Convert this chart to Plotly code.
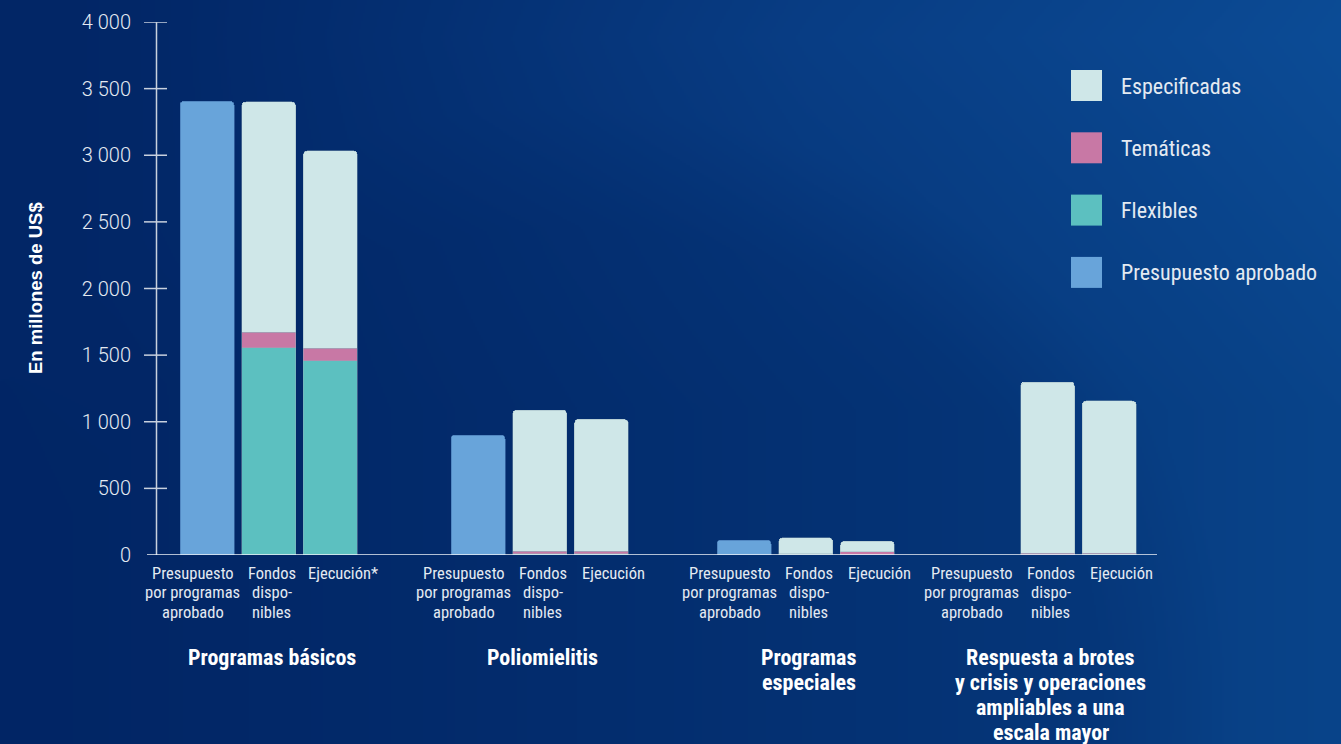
import base64
import struct
import zlib

import numpy as np
import plotly.graph_objects as go

# ---- data (millones de US$) ----
groups = [["Programas básicos"], ["Poliomielitis"], ["Programas", "especiales"],
          ["Respuesta a brotes", "y crisis y operaciones", "ampliables a una", "escala mayor"]]
pres_label = ["Presupuesto", "por programas", "aprobado"]
fond_label = ["Fondos", "dispo-", "nibles"]
ejec_labels = ["Ejecución*", "Ejecución", "Ejecución", "Ejecución"]

presupuesto = [3405, 900, 112, 0]
fondos_flexibles = [1557, 8, 6, 3]
fondos_tematicas = [115, 20, 2, 10]
fondos_especificadas = [1728, 1060, 122, 1285]
ejec_flexibles = [1457, 10, 2, 4]
ejec_tematicas = [95, 18, 24, 8]
ejec_especificadas = [1481, 990, 77, 1144]

y_ticks = [0, 500, 1000, 1500, 2000, 2500, 3000, 3500, 4000]
y_ticktext = ["0", "500", "1 000", "1 500", "2 000", "2 500", "3 000", "3 500", "4 000"]

# ---- layout geometry (x axis measured in pixels) ----
W, H = 1341, 744
L, R, T, B = 140, 0, 22, 189
group_x = [268.7, 539.7, 805.7, 1047.5]
bar_step = 61.7
bar_w = 54
label_dx = [-76, 3, 74]

C_PRES = "#68a4da"
C_ESP = "#cfe7e8"
C_TEM = "#c878a5"
C_FLEX = "#5cc0c0"
TXT = "#e4eaf2"
AXIS = "#c9d1de"
COND = "Roboto Condensed, DejaVu Sans Condensed, Liberation Sans Narrow, Roboto, sans-serif"


def background_png(w, h):
    yy, xx = np.mgrid[0:h, 0:w].astype(float)
    xn, yn = xx / w, yy / h
    left = np.array([2, 38, 102], float)
    right = np.array([9, 68, 138], float)
    t = np.clip(xn ** 1.3, 0, 1)[..., None]
    img = left * (1 - t) + right * t
    # soft lighter sweep in the upper area
    glow = np.clip(1 - np.abs(yn - 0.05) / 0.5, 0, 1) * np.clip((xn - 0.1) / 0.5, 0, 1)
    img = img + np.array([3, 8, 12], float) * glow[..., None]
    # large soft darker disc through the middle of the chart
    d = np.sqrt(((xn - 0.42) * 1.0) ** 2 + ((yn - 0.95) * 0.62) ** 2)
    shade = np.clip((0.50 - d) / 0.10, 0, 1)[..., None]
    img = img * (1 - 0.25 * shade) + np.array([1, 36, 98], float) * 0.25 * shade
    arr = np.clip(img, 0, 255).astype(np.uint8)
    raw = b"".join(b"\x00" + row.tobytes() for row in arr)

    def chunk(tag, data):
        c = struct.pack(">I", len(data)) + tag + data
        return c + struct.pack(">I", zlib.crc32(tag + data) & 0xFFFFFFFF)

    png = b"\x89PNG\r\n\x1a\n" + chunk(b"IHDR", struct.pack(">IIBBBBB", w, h, 8, 2, 0, 0, 0))
    png += chunk(b"IDAT", zlib.compress(raw, 9)) + chunk(b"IEND", b"")
    return "data:image/png;base64," + base64.b64encode(png).decode()


pw, ph = W - L - R, H - T - B


def px_x(px):
    return (px - L) / pw


def px_y(py):
    return (H - B - py) / ph


x_pres = [g - bar_step for g in group_x]
x_fond = list(group_x)
x_ejec = [g + bar_step for g in group_x]

fig = go.Figure()

fig.add_trace(go.Bar(x=x_pres, y=presupuesto, width=bar_w, name="Presupuesto aprobado",
                     marker=dict(color=C_PRES, line=dict(width=0.8, color="rgba(70,120,180,0.8)"))))
for xs, vals, name, col in [
    (x_fond, fondos_flexibles, "Flexibles", C_FLEX),
    (x_ejec, ejec_flexibles, "Flexibles", C_FLEX),
    (x_fond, fondos_tematicas, "Temáticas", C_TEM),
    (x_ejec, ejec_tematicas, "Temáticas", C_TEM),
    (x_fond, fondos_especificadas, "Especificadas", C_ESP),
    (x_ejec, ejec_especificadas, "Especificadas", C_ESP),
]:
    fig.add_trace(go.Bar(x=xs, y=vals, width=bar_w, name=name,
                         marker=dict(color=col, line=dict(width=0.6, color="rgba(150,175,185,0.7)"))))

shapes = []
# y axis line and crossing tick marks
shapes.append(dict(type="line", xref="x", yref="y", x0=156.5, x1=156.5, y0=0, y1=4000,
                   line=dict(color=AXIS, width=1.5)))
for v in y_ticks[1:]:
    shapes.append(dict(type="line", xref="x", yref="y", x0=144, x1=167, y0=v, y1=v,
                       line=dict(color=AXIS, width=1.5)))
# baseline
shapes.append(dict(type="line", xref="x", yref="y", x0=147, x1=1157, y0=0, y1=0,
                   line=dict(color="#eef2f7", width=1.6)))

annotations = []


def text_line(x, y_px, text, size, color, bold=False, family=COND, anchor="center"):
    annotations.append(dict(x=x, xref="x", y=px_y(y_px), yref="paper",
                            text="<b>" + text + "</b>" if bold else text,
                            showarrow=False, xanchor=anchor, yanchor="middle",
                            font=dict(family=family, size=size, color=color)))


# category labels under each bar
for gi, g in enumerate(group_x):
    stacks = [pres_label, fond_label, [ejec_labels[gi]]]
    for k in range(3):
        for li, line in enumerate(stacks[k]):
            text_line(g + label_dx[k], 573 + li * 19.5, line, 16.5, TXT)
    for li, line in enumerate(groups[gi]):
        text_line(g + 3, 657 + li * 25, line, 22, "#ffffff", bold=True)

# y axis title
annotations.append(dict(x=px_x(35), xref="paper", y=px_y(288), yref="paper",
                        xanchor="center", yanchor="middle",
                        text="<b>En millones de US$</b>", textangle=-90, showarrow=False,
                        font=dict(family="Liberation Sans, Arial, sans-serif", size=18.5,
                                  color="#ffffff")))

# legend
legend_items = [("Especificadas", C_ESP), ("Temáticas", C_TEM), ("Flexibles", C_FLEX),
                ("Presupuesto aprobado", C_PRES)]
for i, (name, col) in enumerate(legend_items):
    top = 70 + i * 62.3
    shapes.append(dict(type="rect", xref="x", yref="paper", x0=1071, x1=1102,
                       y0=px_y(top + 31), y1=px_y(top), fillcolor=col, line=dict(width=0)))
    text_line(1119, top + 16, name, 22, TXT, anchor="left")

fig.update_layout(
    width=W, height=H,
    margin=dict(l=L, r=R, t=T, b=B),
    barmode="stack",
    barcornerradius=4,
    showlegend=False,
    paper_bgcolor="#052f72",
    plot_bgcolor="rgba(0,0,0,0)",
    xaxis=dict(range=[L, W - R], showgrid=False, zeroline=False, showticklabels=False,
               showline=False, ticks=""),
    yaxis=dict(range=[0, 4000], tickvals=y_ticks, ticktext=y_ticktext, showgrid=False,
               zeroline=False, showline=False, ticks="", ticklabelstandoff=8,
               tickfont=dict(family="Roboto, sans-serif", size=20, weight=300, color=TXT)),
    shapes=shapes,
    annotations=annotations,
    images=[dict(source=background_png(W // 2, H // 2), xref="paper", yref="paper",
                 x=px_x(0), y=px_y(0), sizex=W / pw, sizey=H / ph, sizing="stretch",
                 xanchor="left", yanchor="top", layer="below")],
)

fig.write_html("out.html")
